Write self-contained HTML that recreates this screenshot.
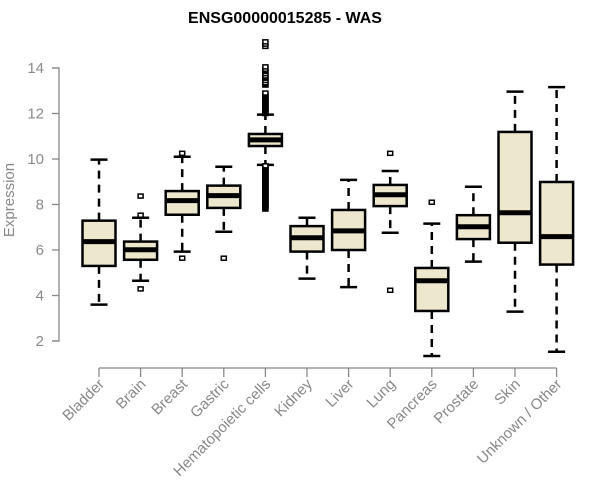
<!DOCTYPE html>
<html><head><meta charset="utf-8"><style>
html,body{margin:0;padding:0;background:#fff;}
svg{display:block;font-family:"Liberation Sans",sans-serif;}
</style></head><body>
<svg id="chart" width="600" height="500">
<text x="285" y="23" text-anchor="middle" font-weight="bold" font-size="16" fill="#000">ENSG00000015285 - WAS</text>
<text transform="translate(14,200) rotate(-90)" text-anchor="middle" font-size="15" fill="#888">Expression</text>
<g id="axes"></g><g id="boxes"></g>
</svg>
<script>
const categories=["Bladder","Brain","Breast","Gastric","Hematopoietic cells","Kidney","Liver","Lung","Pancreas","Prostate","Skin","Unknown / Other"];
const whiskerLow=[3.6,4.65,5.93,6.8,9.74,4.74,4.37,6.76,1.34,5.49,3.29,1.53];
const q1=[5.3,5.57,7.55,7.85,10.57,5.93,6.0,7.93,3.32,6.48,6.32,5.36];
const median=[6.37,6.01,8.17,8.39,10.84,6.54,6.84,8.43,4.65,7.02,7.64,6.59];
const q3=[7.29,6.37,8.59,8.83,11.1,7.05,7.76,8.86,5.21,7.53,11.19,8.99];
const whiskerHigh=[9.97,7.42,10.1,9.66,11.95,7.42,9.08,9.47,7.16,8.78,12.96,13.16];
const outliers=[[],[8.37,7.53,4.29],[10.25,5.64],[5.64],
[7.8,7.85,7.9,7.95,8.0,8.05,8.1,8.15,8.2,8.25,8.3,8.35,8.4,8.45,8.5,8.55,8.6,8.65,8.7,8.75,8.8,8.85,8.9,8.95,9.0,9.05,9.1,9.15,9.2,9.25,9.3,9.35,9.4,9.45,9.5,9.55,9.6,9.65,9.7,12.0,12.05,12.1,12.15,12.2,12.25,12.3,12.35,12.4,12.45,12.5,12.55,12.6,12.65,12.7,12.75,12.8,12.85,12.9,13.25,13.3,13.35,13.45,13.55,13.6,13.65,13.75,13.85,13.9,13.95,14.05,14.95,15.05,15.15],
[],[],[10.25,4.23],[8.1],[],[],[]];
const yTicks=[2,4,6,8,10,12,14];
const NS="http://www.w3.org/2000/svg";
function yS(v){return 68+(14-v)*22.75;}
function xS(i){return 99+i*41.6;}
function mk(tag,attrs,parent){const e=document.createElementNS(NS,tag);for(const k in attrs)e.setAttribute(k,attrs[k]);parent.appendChild(e);return e;}
const axes=document.getElementById('axes'),boxes=document.getElementById('boxes');
let a=mk('path',{d:`M52 ${yS(14)}H59V${yS(2)}H52`,stroke:'#888',fill:'none','stroke-width':1.3},axes);


yTicks.forEach(t=>{
 const l=mk('line',{x1:52,x2:59,y1:yS(t),y2:yS(t),stroke:'#888','stroke-width':1.3},axes);
 
 
 const tx=mk('text',{x:44,y:yS(t)+5,'text-anchor':'end','font-size':15,fill:'#8a8a8a'},axes);
 tx.textContent=t;
 
 
});
let xa=mk('line',{x1:xS(0),x2:xS(categories.length-1),y1:368,y2:368,stroke:'#888','stroke-width':1.3},axes);


categories.forEach((c,i)=>{
 const x=xS(i);
 const tk=mk('line',{x1:x,x2:x,y1:368,y2:377,stroke:'#888','stroke-width':1.3},axes);
 
 
 const tx=mk('text',{transform:`translate(${x+6},385) rotate(-45)`,'text-anchor':'end','font-size':15,fill:'#888'},axes);
 tx.textContent=c;
 
 
 const g=mk('g',{},boxes);
 
 
 const hw=16.5,cw=8.5;
 mk('line',{x1:x,x2:x,y1:yS(q3[i]),y2:yS(whiskerHigh[i]),stroke:'#000','stroke-width':2.5,'stroke-dasharray':'8,6'},g);
 mk('line',{x1:x,x2:x,y1:yS(q1[i]),y2:yS(whiskerLow[i]),stroke:'#000','stroke-width':2.5,'stroke-dasharray':'8,6'},g);
 mk('line',{x1:x-cw,x2:x+cw,y1:yS(whiskerHigh[i]),y2:yS(whiskerHigh[i]),stroke:'#000','stroke-width':2.5},g);
 mk('line',{x1:x-cw,x2:x+cw,y1:yS(whiskerLow[i]),y2:yS(whiskerLow[i]),stroke:'#000','stroke-width':2.5},g);
 mk('rect',{x:x-hw,y:yS(q3[i]),width:2*hw,height:yS(q1[i])-yS(q3[i]),fill:'#ede7cd',stroke:'#000','stroke-width':2.5},g);
 mk('line',{x1:x-hw,x2:x+hw,y1:yS(median[i]),y2:yS(median[i]),stroke:'#000','stroke-width':5},g);
 outliers[i].forEach(v=>{
  const o=mk('rect',{x:x-2.5,y:yS(v)-2,width:5,height:4,fill:'#fff',stroke:'#000','stroke-width':1.5},g);
  
  
 });
});
</script>
</body></html>
